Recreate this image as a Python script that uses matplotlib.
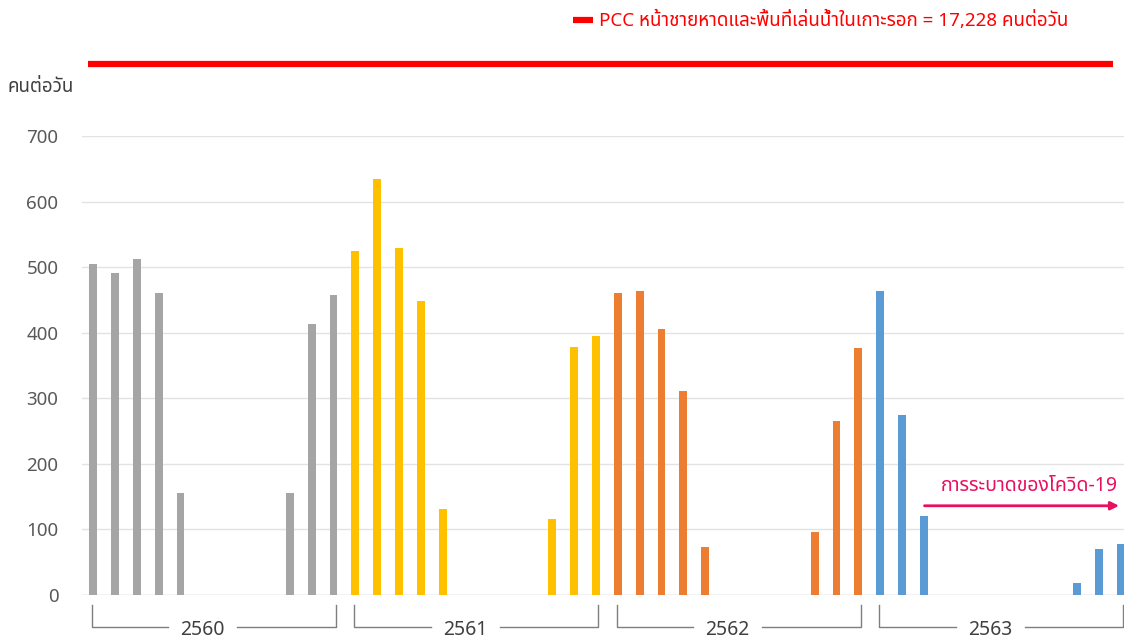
import matplotlib
matplotlib.use("Agg")
import matplotlib.pyplot as plt
import matplotlib.transforms as mtransforms
from matplotlib.lines import Line2D

plt.rcParams['font.family'] = ['Noto Sans Thai', 'Loma', 'Garuda', 'Tlwg Typist', 'DejaVu Sans']

# จำนวนนักท่องเที่ยวเฉลี่ยต่อวัน รายเดือน (ม.ค.-ธ.ค.) ปีละ 12 เดือน
years = ["2560", "2561", "2562", "2563"]
v2560 = [505, 491, 512, 460, 156, 0, 0, 0, 0, 155, 414, 458]
v2561 = [524, 634, 529, 448, 131, 0, 0, 0, 0, 116, 378, 395]
v2562 = [460, 463, 405, 311, 73, 0, 0, 0, 0, 96, 265, 376]
v2563 = [463, 274, 121, 0, 0, 0, 0, 0, 0, 18, 70, 77]
colors = ["#A5A5A5", "#FFC000", "#ED7D31", "#5B9BD5"]
pcc = 17228

fig = plt.figure(figsize=(11.24, 6.39), dpi=100)
ax = fig.add_axes([0.073, 0.069, 0.927, 0.718])

for i, (vals, c) in enumerate(zip([v2560, v2561, v2562, v2563], colors)):
    xs = [i * 12 + m for m in range(12)]
    ax.bar(xs, vals, width=0.36, color=c, zorder=3)

ax.set_xlim(-0.5, 47.15)
ax.set_ylim(0, 700)
ax.set_yticks(range(0, 701, 100))
ax.set_xticks([])
ax.grid(axis='y', color='#E3E3E3', linewidth=1, zorder=0)
for s in ax.spines.values():
    s.set_visible(False)
ax.axhline(0, color='#D9D9D9', linewidth=1, zorder=2)
ax.tick_params(axis='y', length=0, pad=17, labelsize=13.5, labelcolor='#595959')

# วงเล็บปีใต้แกน x
trans = mtransforms.blended_transform_factory(ax.transData, ax.transAxes)
for i, y in enumerate(years):
    x0, x1 = i * 12 - 0.05, i * 12 + 11.1
    xm = (x0 + x1) / 2 - 0.5
    kw = dict(color='#7F7F7F', linewidth=1, transform=trans, clip_on=False)
    ax.plot([x0, x0, xm - 1.58], [-0.022, -0.07, -0.07], **kw)
    ax.plot([xm + 1.58, x1, x1], [-0.07, -0.07, -0.022], **kw)
    ax.text(xm, -0.077, y, transform=trans, ha='center', va='center',
            fontsize=14, color='#404040')

fig.text(0.007, 0.864, "คนต่อวัน", fontsize=13.5, color='#404040',
         va='center', ha='left')

# ช่วงการระบาดของโควิด-19
ax.annotate("", xy=(47.05, 136), xytext=(37.9, 136),
            arrowprops=dict(arrowstyle='-|>', color='#E8105E', lw=2,
                            mutation_scale=12), zorder=4)
ax.text(46.85, 166, "การระบาดของโควิด-19", ha='right', va='center',
        fontsize=14, color='#E8105E')

# เส้น PCC
ax_top = fig.add_axes([0.078, 0.88, 0.912, 0.04])
ax_top.plot([0, 1], [pcc, pcc], color='#FF0000', linewidth=4.5,
            solid_capstyle='butt')
ax_top.set_xlim(0, 1)
ax_top.set_ylim(pcc - 10, pcc + 10)
ax_top.axis('off')

fig.add_artist(Line2D([0.5098, 0.5276], [0.968, 0.968], color='#FF0000',
                      linewidth=4.5, solid_capstyle='butt'))
fig.text(0.533, 0.968, "PCC หน้าชายหาดและพื้นที่เล่นน้ำในเกาะรอก = 17,228 คนต่อวัน",
         color='#FF0000', fontsize=13.5, va='center')

fig.savefig("out.png", dpi=100)
